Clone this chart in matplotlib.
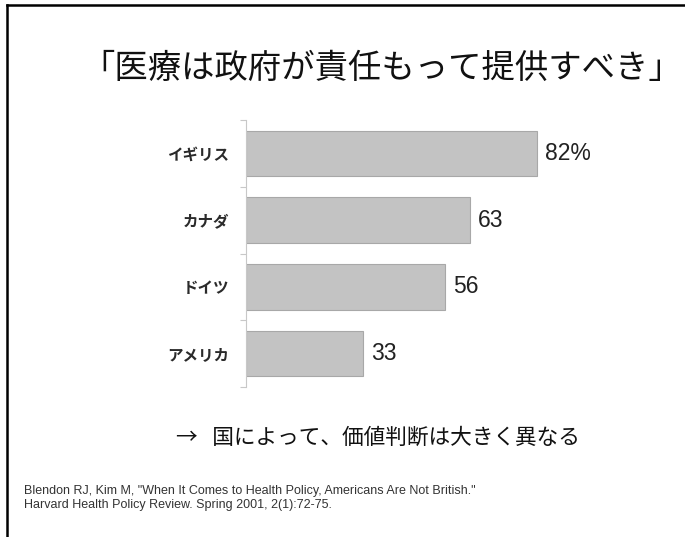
import matplotlib.pyplot as plt
from matplotlib.lines import Line2D

plt.rcParams['font.family'] = ['Noto Sans CJK JP', 'DejaVu Sans']

countries = ['イギリス', 'カナダ', 'ドイツ', 'アメリカ']
values = [82, 63, 56, 33]
value_labels = ['82%', '63', '56', '33']

title = '「医療は政府が責任もって提供すべき」'
note = '→   国によって、価値判断は大きく異なる'
citation = ('Blendon RJ, Kim M, "When It Comes to Health Policy, Americans Are Not British."\n'
            'Harvard Health Policy Review. Spring 2001, 2(1):72-75.')

W, H = 685, 537
fig = plt.figure(figsize=(W / 100, H / 100), dpi=100)

# slide border (left and top only)
fig.add_artist(Line2D([6.5 / W, 6.5 / W], [0, 1 - 5 / H], color='black', lw=1.8))
fig.add_artist(Line2D([6.5 / W, 1], [1 - 5 / H, 1 - 5 / H], color='black', lw=1.8))

# bar area: spine at x=246px, 0..100 over 355px, y from 120 to 387px
ax = fig.add_axes([246 / W, (H - 387) / H, 355 / W, 267 / H])
ypos = list(range(len(countries)))
ax.barh(ypos, values, height=0.68, color='#c3c3c3', edgecolor='#a8a8a8', lw=0.8)
ax.set_xlim(0, 100)
ax.set_ylim(len(countries) - 0.5, -0.5)

for y, v, lab in zip(ypos, values, value_labels):
    ax.annotate(lab, (v, y), xytext=(6, 0), textcoords='offset points',
                va='center', ha='left', fontsize=16.5, color='#222222',
                family=['Liberation Sans', 'DejaVu Sans'])

ax.set_yticks(ypos)
ax.set_yticklabels(countries, fontsize=11.2, fontweight='bold', color='#2a2a2a')
ax.set_yticks([i - 0.5 for i in range(len(countries) + 1)], minor=True)
ax.tick_params(axis='y', which='major', length=0, pad=12)
ax.tick_params(axis='y', which='minor', length=4, color='#c8c8c8', width=0.8)
ax.set_xticks([])
for s in ['top', 'right', 'bottom']:
    ax.spines[s].set_visible(False)
ax.spines['left'].set_color('#c8c8c8')
ax.spines['left'].set_linewidth(0.8)

fig.text(81 / W, 1 - 68 / H, title, fontsize=24, ha='left', va='center', color='#111111')
fig.text(176 / W, 1 - 438 / H, note, fontsize=15.6, ha='left', va='center', color='#111111')
fig.text(24 / W, 1 - 498 / H, citation, fontsize=9, ha='left', va='center',
         color='#333333', family=['Liberation Sans', 'DejaVu Sans'], linespacing=1.3)

fig.savefig('out.png', dpi=100, facecolor='white')
